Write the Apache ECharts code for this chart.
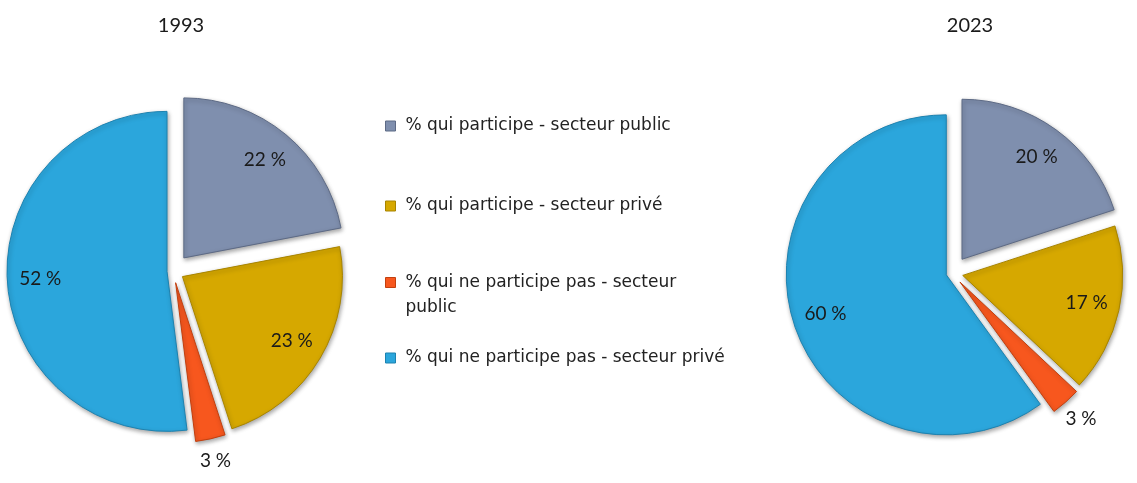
<!DOCTYPE html>
<html><head><meta charset="utf-8">
<script src="https://cdn.jsdelivr.net/npm/echarts@6/dist/echarts.min.js"></script>
<style>html,body{margin:0;padding:0;background:#fff}#c{width:1137px;height:483px}</style>
</head><body><div id="c"></div>
<script>
const years = ['1993', '2023'];
const categories = [
  '% qui participe - secteur public',
  '% qui participe - secteur privé',
  '% qui ne participe pas - secteur public',
  '% qui ne participe pas - secteur privé'
];
const legendLabels = [
  '% qui participe - secteur public',
  '% qui participe - secteur privé',
  '\n% qui ne participe pas - secteur\npublic',
  '% qui ne participe pas - secteur privé'
];
const values1993 = [22, 23, 3, 52];
const values2023 = [20, 17, 3, 60];
const sliceColors = ['#7f8fae', '#d6a800', '#f7571e', '#2ba6dc'];
const edgeColors = ['#5d6a85', '#a88400', '#c2400f', '#1d82b0'];

const pies = [
  { title: years[0], values: values1993, center: [173, 271], titleX: 181 },
  { title: years[1], values: values2023, center: [952, 273], titleX: 970 }
];
const R = 160;
const explode = [17, 11, 12, 6];
const LABEL_FONT = 'Lato, "Open Sans", sans-serif';

const series = [];
pies.forEach(p => {
  const total = p.values.reduce((a, b) => a + b, 0);
  let cum = 0;
  p.values.forEach((v, i) => {
    const ang = (cum + v / 2) / total * 2 * Math.PI;
    cum += v;
    const c = [p.center[0] + Math.sin(ang) * explode[i], p.center[1] - Math.cos(ang) * explode[i]];
    const small = v / total < 0.05;
    const mk = (labelOnly) => p.values.map((val, j) => ({
      name: categories[j],
      value: val,
      itemStyle: (j === i && !labelOnly)
        ? { color: sliceColors[j], borderColor: edgeColors[j], borderWidth: 1,
            shadowBlur: 4, shadowColor: 'rgba(0,0,0,0.35)', shadowOffsetX: 1, shadowOffsetY: 2 }
        : { color: 'rgba(0,0,0,0)', borderWidth: 0 },
      label: { show: labelOnly && j === i }
    }));
    series.push({
      type: 'pie', center: c, radius: [0, R], startAngle: 90, clockwise: true,
      data: mk(false), label: { show: false }, labelLine: { show: false },
      emphasis: { disabled: true }, silent: true, animation: false, z: 2
    });
    series.push({
      type: 'pie', center: c, radius: small ? [R, R + 40] : [R * 0.55, R],
      startAngle: 90, clockwise: true, avoidLabelOverlap: false,
      data: mk(true),
      label: { position: 'inside', formatter: '{c} %', color: '#1a1a1a',
               fontFamily: LABEL_FONT, fontSize: 19 },
      labelLine: { show: false },
      emphasis: { disabled: true }, silent: true, animation: false, z: 3
    });
  });
});

const legendTops = [117, 197, 245, 349];
const legends = categories.map((name, i) => ({
  data: [{ name: name, itemStyle: { color: sliceColors[i], borderColor: edgeColors[i], borderWidth: 1 } }],
  orient: 'vertical', left: 385, top: legendTops[i], padding: 0,
  itemWidth: 10, itemHeight: 10, icon: 'rect', selectedMode: false,
  formatter: () => legendLabels[i],
  textStyle: {
    fontFamily: '"DejaVu Sans", Verdana, sans-serif', fontSize: 17, color: '#222222',
    lineHeight: i === 2 ? 25 : 18,
    padding: [0, 0, 0, 5]
  }
}));

const chart = echarts.init(document.getElementById('c'));
chart.setOption({
  animation: false,
  backgroundColor: '#ffffff',
  title: pies.map(p => ({
    text: p.title, left: p.titleX - 5, top: 21, textAlign: 'center', textVerticalAlign: 'middle',
    textStyle: { fontFamily: LABEL_FONT, fontSize: 20, fontWeight: 'normal', color: '#1a1a1a' }
  })),
  legend: legends,
  series: series
});
</script>
</body></html>
